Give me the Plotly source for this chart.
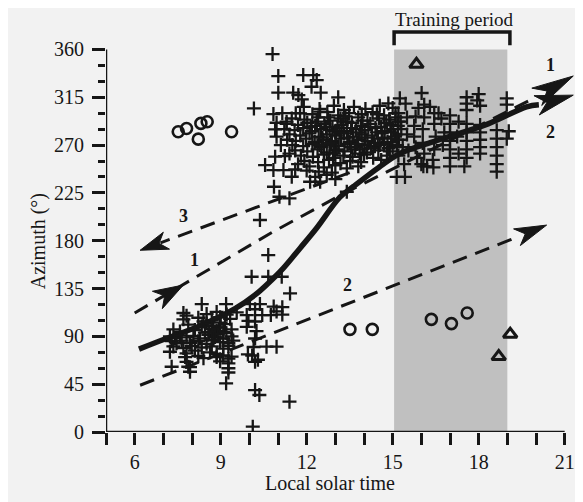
import plotly.graph_objects as go

# ---------------- data ----------------
hour_ticks = [6, 9, 12, 15, 18, 21]
hour_minor = [5, 7, 8, 10, 11, 13, 14, 16, 17, 19, 20]
az_ticks = [0, 45, 90, 135, 180, 225, 270, 315, 360]
az_minor = [15, 30, 60, 75, 105, 120, 150, 165, 195, 210, 240, 255, 285, 300, 330, 345]

training_start = 15.05
training_end = 19.0
training_top = 360

morning_crosses = [
    (10.66, 166.5), (10.08, 146.1), (10.66, 146.1), (11.13, 146.1), (11.42, 130.4),
    (8.34, 120.4), (9.19, 120.4), (10.02, 120.4), (10.37, 120.4), (10.20, 115.5), (10.85, 118.0),
    (11.15, 117.5), (10.75, 110.0), (11.15, 110.5), (10.95, 113.5), (10.45, 110.0),
    (10.60, 80.3), (10.95, 80.3), (7.29, 61.4), (7.87, 61.4), (7.93, 56.7), (9.19, 45.8),
    (10.20, 39.5), (10.35, 34.8), (11.40, 28.5), (10.12, 5.0),
    (10.20, 104.0), (10.25, 95.0), (10.20, 88.0), (10.15, 80.0), (10.10, 72.0), (10.20, 66.0),
    (9.95, 73.0), (10.30, 68.0),
    (7.70, 112.0), (7.81, 109.5), (8.51, 111.0), (8.86, 113.0), (9.21, 110.5), (9.56, 112.5), (9.91, 110.0),
    (7.70, 106.0), (8.22, 107.5), (8.69, 105.0), (8.98, 108.0), (9.33, 106.5), (9.97, 104.5),
    (7.87, 101.0), (8.34, 99.5), (8.51, 102.0), (8.74, 100.0), (8.98, 98.5), (9.15, 101.5), (9.91, 99.0),
    (7.35, 96.5), (7.58, 94.5), (8.10, 96.0), (8.45, 93.5), (8.69, 97.0), (8.86, 95.0), (9.09, 94.0), (9.38, 96.5),
    (7.23, 90.0), (7.41, 88.5), (7.58, 91.0), (7.81, 89.0), (8.05, 90.5), (8.28, 88.0), (8.57, 91.5),
    (8.80, 89.5), (9.09, 88.0), (9.38, 90.0),
    (7.29, 85.5), (7.46, 83.5), (7.64, 86.0), (7.93, 84.0), (8.22, 85.5), (8.51, 83.0), (8.69, 86.5),
    (8.98, 84.5), (9.27, 83.5), (9.44, 86.0),
    (7.35, 80.5), (7.70, 79.0), (7.99, 81.0), (8.34, 79.5), (8.69, 80.5), (9.09, 78.5), (9.27, 81.0),
    (7.23, 75.5), (7.81, 74.0), (8.10, 76.5), (8.63, 75.0), (8.86, 73.5),
    (7.76, 70.5), (8.22, 71.5), (8.40, 69.5), (8.86, 70.5), (9.09, 72.0), (9.27, 69.0), (9.38, 71.0),
    (7.81, 66.0), (8.98, 66.5), (9.27, 64.5), (7.93, 61.0), (9.27, 60.0), (9.27, 56.0),
    (8.60, 94.0), (8.90, 92.0), (9.20, 93.0), (8.75, 87.0), (9.00, 103.0), (8.40, 104.0),
]

midday_crosses = [
    (10.81, 355.6), (11.01, 334.9), (11.88, 335.9), (12.23, 335.9), (12.35, 331.2), (12.17, 324.9),
    (11.01, 319.3), (11.53, 319.3), (11.71, 317.1), (11.83, 313.0), (12.49, 319.3), (13.10, 314.9),
    (10.16, 304.5), (10.84, 299.2), (11.77, 299.8), (12.47, 301.4), (14.85, 309.2), (10.90, 284.8),
    (10.95, 277.9), (10.90, 259.1), (11.24, 259.7), (10.55, 251.2), (10.84, 246.5), (11.19, 246.5),
    (11.48, 240.2), (12.12, 235.5), (12.47, 235.5), (10.86, 230.8), (11.05, 221.4), (11.40, 219.9),
    (10.37, 199.5), (13.40, 226.1),
    (11.30, 292.0), (11.10, 270.0), (11.40, 262.0), (11.70, 252.0), (12.00, 246.0), (12.70, 242.0),
    (13.00, 238.0), (11.60, 247.0), (12.30, 240.0), (10.95, 291.0), (11.15, 300.0),
]

cluster_crosses = [
    (11.90, 306), (12.45, 304), (12.95, 307), (13.30, 303), (13.65, 306), (14.05, 304), (14.55, 307), (15.00, 305),
    (11.62, 300), (12.20, 299), (12.72, 301), (13.10, 298), (13.48, 300), (13.92, 299), (14.30, 301), (14.70, 298), (15.20, 300),
    (11.48, 295), (11.92, 294), (12.40, 296), (12.82, 293), (13.18, 295), (13.42, 292), (13.80, 296), (14.12, 293),
    (14.52, 295), (14.88, 294), (15.28, 292),
    (11.30, 290), (11.70, 289), (12.02, 291), (12.30, 288), (12.62, 290), (12.90, 287), (13.22, 289), (13.58, 291),
    (13.90, 288), (14.22, 290), (14.60, 287), (14.92, 289), (15.18, 288),
    (11.22, 285), (11.58, 284), (11.88, 286), (12.18, 283), (12.50, 285), (12.80, 284), (13.08, 286), (13.40, 283),
    (13.72, 285), (14.02, 284), (14.40, 286), (14.72, 283), (15.02, 285),
    (11.40, 280), (11.78, 279), (12.10, 281), (12.42, 278), (12.70, 280), (13.02, 279), (13.30, 281), (13.62, 278),
    (13.92, 280), (14.28, 279), (14.62, 281), (15.08, 278),
    (11.32, 275), (11.62, 274), (11.98, 276), (12.28, 273), (12.58, 275), (12.88, 274), (13.20, 276), (13.50, 273),
    (13.80, 275), (14.12, 274), (14.48, 276), (14.82, 273), (15.22, 275),
    (11.50, 270), (11.88, 269), (12.20, 271), (12.52, 268), (12.80, 270), (13.12, 269), (13.42, 271), (13.70, 268),
    (14.02, 270), (14.38, 269), (14.70, 271), (15.00, 268),
    (11.60, 265), (12.02, 264), (12.38, 266), (12.70, 263), (13.00, 265), (13.32, 264), (13.68, 266), (14.10, 263),
    (14.50, 265), (14.90, 264),
    (11.80, 260), (12.22, 259), (12.60, 261), (12.92, 258), (13.28, 260), (13.60, 259), (14.00, 261), (14.32, 258), (14.80, 260),
    (11.92, 255), (12.40, 254), (12.78, 256), (13.18, 253), (13.52, 255), (13.90, 254), (14.60, 256),
    (12.10, 250), (12.60, 249), (13.00, 251), (13.40, 248), (13.80, 250),
    (12.42, 245), (12.88, 244),
    (12.35, 292), (12.68, 287), (12.98, 283), (13.28, 292), (13.55, 286), (13.85, 282), (14.15, 287),
    (14.45, 282), (14.78, 291), (12.55, 277), (12.85, 272), (13.15, 282), (13.45, 277), (13.75, 271),
    (14.05, 277), (14.35, 272), (14.65, 277), (14.95, 282), (12.45, 270), (13.05, 266), (13.55, 268),
    (13.95, 266), (14.25, 267), (14.55, 270), (14.85, 267), (12.15, 287), (12.75, 296), (13.35, 297),
    (13.95, 293), (14.45, 299), (15.10, 296), (15.15, 270), (14.95, 276), (12.95, 262), (13.85, 262),
]

training_crosses = [
    (16.01, 319), (15.25, 314), (15.45, 309), (17.58, 315), (17.58, 309), (17.58, 303), (18.00, 318),
    (17.95, 312), (18.05, 307), (18.98, 314), (18.98, 308),
    (15.90, 305), (16.10, 308), (16.30, 306), (16.45, 300), (15.80, 297), (15.75, 288), (15.75, 278),
    (15.80, 268), (15.85, 258), (16.00, 252), (16.20, 250), (16.40, 256), (16.45, 266), (16.50, 278),
    (16.45, 290), (16.10, 296), (16.05, 285), (16.05, 272), (16.10, 262),
    (17.00, 298), (17.00, 290), (17.00, 282), (17.00, 274), (17.00, 266), (17.00, 258), (17.00, 250),
    (17.58, 290), (17.58, 282), (17.58, 274), (17.58, 266), (17.58, 258), (17.50, 250),
    (18.05, 289), (18.05, 282), (18.05, 275), (18.05, 268), (18.05, 262),
    (18.63, 284), (18.63, 276), (18.63, 268), (18.63, 260), (18.63, 252), (18.63, 245),
    (18.98, 276), (19.05, 283), (16.07, 250), (16.42, 249),
    (15.10, 300), (15.20, 292), (15.30, 285), (15.15, 275), (15.35, 268), (15.20, 260), (15.40, 252),
    (15.50, 296), (15.50, 280), (15.55, 265),
    (16.70, 295), (16.80, 282), (16.75, 270), (17.30, 292), (17.25, 278), (17.30, 262), (16.60, 300),
    (15.14, 240), (15.43, 240),
]

circle_x = [7.52, 7.81, 8.22, 8.31, 8.53, 9.38, 13.51, 14.29, 16.35, 17.05, 17.60]
circle_y = [282.5, 285.6, 275.6, 290.4, 292.0, 282.5, 96.6, 96.6, 106.0, 102.0, 112.0]

triangle_x = [15.83, 19.10, 18.70]
triangle_y = [346.0, 92.0, 71.0]

sun_x = [6.15, 7.10, 8.20, 9.50, 10.20, 10.66, 11.18, 11.77, 12.35, 13.16, 13.63, 14.67, 15.25, 16.50, 18.33, 19.67, 20.10]
sun_y = [78, 88, 99, 116, 129, 140, 154, 173, 192, 221, 231, 252, 262, 274, 290, 306, 308]
sun_tip = (21.30, 317.0)

line1_x = [6.00, 10.80, 13.40, 20.00]
line1_y = [112, 188, 226, 315]
line1_tip = (21.30, 335.0)
line1_mid_tip = (7.70, 138.3)

line2_x = [6.19, 19.40]
line2_y = [44, 184]
line2_tip = (20.37, 194.7)

line3_x = [13.50, 6.90]
line3_y = [244, 178]
line3_tip = (6.19, 171.0)

# ---------------- geometry helpers ----------------
PAGE_PAD = 8                      # default body margin of the html page
W, H = 583 - PAGE_PAD, 502 - PAGE_PAD
ML, MR, MT, MB = 106 - PAGE_PAD, 4, 0, 70
X0, X1 = 5, 21.5
Y0, Y1 = 0, 399
SX = (W - ML - MR) / (X1 - X0)
SY = (H - MT - MB) / (Y1 - Y0)
PLOT_W, PLOT_H = W - ML - MR, H - MT - MB
INK = "#161616"
SERIF = "Liberation Serif, Times New Roman, serif"


def dart(tip, frm, length, half_w, notch=0.28):
    tx, ty = tip[0] * SX, tip[1] * SY
    fx, fy = frm[0] * SX, frm[1] * SY
    dx, dy = tx - fx, ty - fy
    n = (dx * dx + dy * dy) ** 0.5
    dx, dy = dx / n, dy / n
    nx, ny = -dy, dx
    bx, by = tx - dx * length, ty - dy * length
    kx, ky = tx - dx * length * (1 - notch), ty - dy * length * (1 - notch)
    pts = [(tx, ty), (bx + nx * half_w, by + ny * half_w), (kx, ky), (bx - nx * half_w, by - ny * half_w)]
    d = "M " + " L ".join(f"{px / SX:.4f},{py / SY:.4f}" for px, py in pts) + " Z"
    return dict(type="path", path=d, xref="x", yref="y", fillcolor=INK, line=dict(color=INK, width=1))


def split(pairs):
    return [p[0] for p in pairs], [p[1] for p in pairs]


fig = go.Figure()

dash_style = dict(color=INK, width=3, dash="15px,9px")
fig.add_trace(go.Scatter(x=line3_x, y=line3_y, mode="lines", line=dash_style, hoverinfo="skip"))
fig.add_trace(go.Scatter(x=line1_x, y=line1_y, mode="lines", line=dash_style, hoverinfo="skip"))
fig.add_trace(go.Scatter(x=line2_x, y=line2_y, mode="lines", line=dash_style, hoverinfo="skip"))
fig.add_trace(go.Scatter(x=sun_x, y=sun_y, mode="lines", line=dict(color=INK, width=5.5, shape="spline"),
                         hoverinfo="skip"))

for grp in (morning_crosses, midday_crosses, cluster_crosses, training_crosses):
    gx, gy = split(grp)
    fig.add_trace(go.Scatter(x=gx, y=gy, mode="markers",
                             marker=dict(symbol="cross-thin", size=10, color=INK,
                                         line=dict(color=INK, width=2.3))))

fig.add_trace(go.Scatter(x=circle_x, y=circle_y, mode="markers",
                         marker=dict(symbol="circle-open", size=11, color=INK, line=dict(color=INK, width=2.6))))
fig.add_trace(go.Scatter(x=triangle_x, y=triangle_y, mode="markers",
                         marker=dict(symbol="triangle-up-open", size=12, color=INK, line=dict(color=INK, width=3))))

shapes = [
    dict(type="rect", xref="x", yref="y", x0=training_start, x1=training_end, y0=0, y1=training_top,
         fillcolor="#c0c0c0", line=dict(width=0), layer="below"),
    dict(type="path", xref="x", yref="y",
         path=f"M {training_start},364 L {training_start},376.5 L {training_end + 0.09},376.5 L {training_end + 0.09},364",
         line=dict(color=INK, width=3.5)),
    dict(type="line", xref="x", yref="y", x0=5, x1=21, y0=0, y1=0, line=dict(color=INK, width=2.5)),
    dict(type="line", xref="x", yref="y", x0=5, x1=5, y0=0, y1=360, line=dict(color=INK, width=2.5)),
    dart(line3_tip, (line3_x[-1], line3_y[-1]), 28, 9),
    dart(line1_mid_tip, (line1_x[0], line1_y[0]), 30, 10),
    dart(line2_tip, (line2_x[-1], line2_y[-1]), 32, 9),
    dart(line1_tip, (line1_x[-1], line1_y[-1]), 42, 10),
    dart(sun_tip, (sun_x[-1], sun_y[-1]), 38, 10),
]

label_font = dict(family=SERIF, size=18, color=INK)
annotations = [
    dict(text="Training period", x=17.14, y=388, xref="x", yref="y", showarrow=False,
         font=dict(family=SERIF, size=19, color=INK)),
    dict(text="Local solar time", x=12.8, y=-(483 - 432) / PLOT_H, xref="x", yref="paper",
         showarrow=False, yanchor="middle", font=dict(family=SERIF, size=20, color=INK)),
    dict(text="Azimuth (°)", x=-(106 - 25) / PLOT_W, y=179, xref="paper", yref="y",
         showarrow=False, textangle=-90, font=dict(family=SERIF, size=20, color=INK)),
    dict(text="<b>1</b>", x=8.1, y=162, xref="x", yref="y", showarrow=False, font=label_font),
    dict(text="<b>3</b>", x=7.7, y=203, xref="x", yref="y", showarrow=False, font=label_font),
    dict(text="<b>2</b>", x=13.43, y=138, xref="x", yref="y", showarrow=False, font=label_font),
    dict(text="<b>1</b>", x=20.49, y=345, xref="x", yref="y", showarrow=False, font=label_font),
    dict(text="<b>2</b>", x=20.52, y=282, xref="x", yref="y", showarrow=False, font=label_font),
]

tick_font = dict(family=SERIF, size=20, color=INK)
fig.update_layout(
    width=W, height=H,
    margin=dict(l=ML, r=MR, t=MT, b=MB, pad=0),
    paper_bgcolor="#f2f2f2", plot_bgcolor="#f2f2f2",
    showlegend=False,
    shapes=shapes, annotations=annotations,
    xaxis=dict(range=[X0, X1], tickmode="array", tickvals=hour_ticks, ticks="outside", ticklen=12,
               tickwidth=2.5, tickcolor=INK, showgrid=False, zeroline=False, showline=False,
               tickfont=tick_font,
               minor=dict(tickmode="array", tickvals=hour_minor, ticks="outside", ticklen=12,
                          tickwidth=2.5, tickcolor=INK, showgrid=False)),
    yaxis=dict(range=[Y0, Y1], tickmode="array", tickvals=az_ticks, ticks="outside", ticklen=13,
               tickwidth=2.5, tickcolor=INK, showgrid=False, zeroline=False, showline=False,
               tickfont=tick_font, ticklabelstandoff=4,
               minor=dict(tickmode="array", tickvals=az_minor, ticks="outside", ticklen=7,
                          tickwidth=2.5, tickcolor=INK, showgrid=False)),
)

fig.write_html("out.html")
